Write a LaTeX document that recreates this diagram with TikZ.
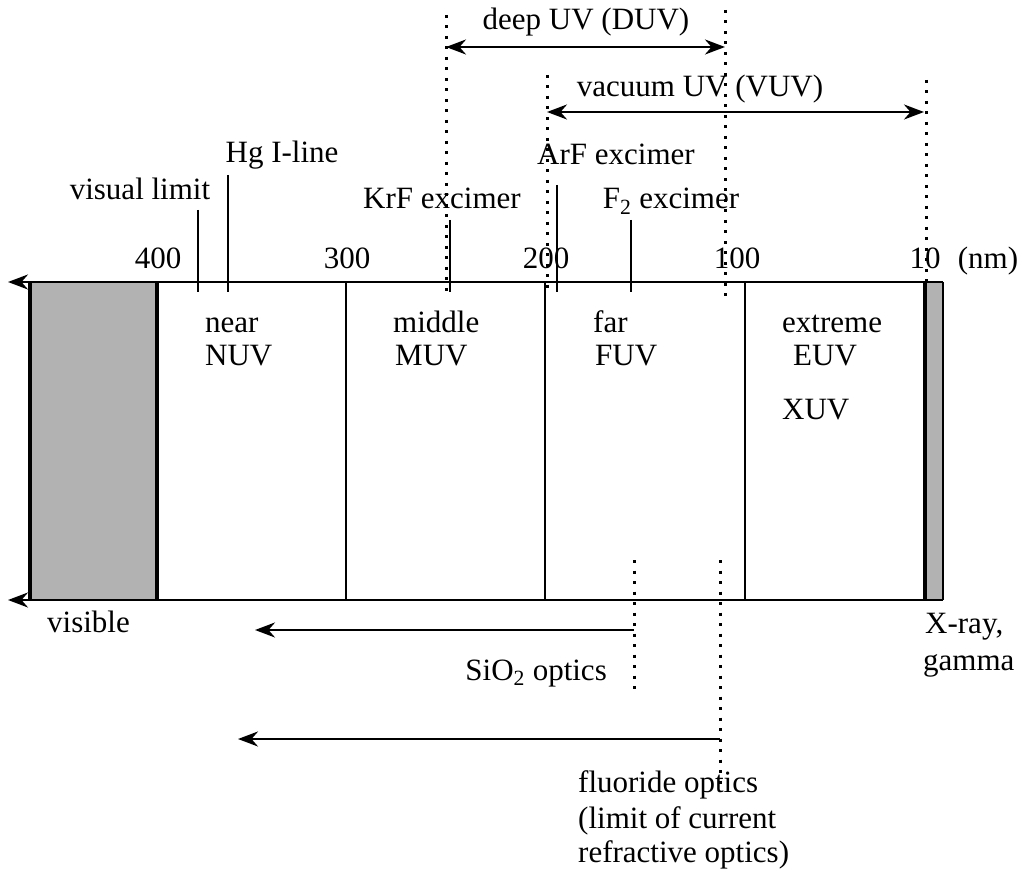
\documentclass[tikz,border=0pt]{standalone}
\usepackage{fontspec}
\setmainfont{Liberation Serif}
\usetikzlibrary{arrows.meta,positioning}

\begin{document}
\begin{tikzpicture}[x=1pt, y=-1pt,
  txt/.style={inner sep=0pt, font=\fontsize{31}{35}\selectfont},
  axis/.style={line width=3pt},
  divider/.style={line width=2.5pt},
  edge/.style={line width=4pt},
  tick/.style={line width=2.5pt},
  dots/.style={line width=3pt, dash pattern=on 3pt off 7.5pt},
  arr/.style={-{Stealth[length=20pt,width=15pt]}, line width=2.5pt},
  both/.style={{Stealth[length=20pt,width=15pt]}-{Stealth[length=20pt,width=15pt]}, line width=2.5pt}
]
\useasboundingbox (0,0) rectangle (1025,882);

% band ends
\coordinate (topL) at (8,282);
\coordinate (topR) at (943,282);
\coordinate (botL) at (8,600);
\coordinate (botR) at (943,600);

\fill[black!30] (30,282) rectangle (157,600);
\fill[black!30] (925,282) rectangle (943,600);
\draw[edge] (30,282) -- (30,600);
\draw[edge] (157,282) -- (157,600);
\draw[edge] (925,282) -- (925,600);
\draw[divider] (943,282) -- (943,600);
\foreach \x in {346,545,745}
  \draw[divider] (\x,282) -- (\x,600);
\draw[axis, arr] (topR) -- (topL);
\draw[axis, arr] (botR) -- (botL);

% wavelength scale
\foreach \x/\t in {158/400, 347/300, 546/200, 737/100, 925/10}
  \node[txt, anchor=base] (n\t) at (\x,269) {\t};
\node[txt, anchor=base] (unit) at (988,269) {(nm)};

% lines of sources
\foreach \x/\y in {198/210, 228/175, 450/220, 557/185, 631/220}
  \draw[tick] (\x,\y) -- (\x,292);
\node[txt, anchor=base] (vislim) at (140,200) {visual limit};
\node[txt, anchor=base] (hgline) at (282,163) {Hg I-line};
\node[txt, anchor=base] (krf) at (442,209) {KrF excimer};
\node[txt, anchor=base] (arf) at (616,165) {ArF excimer};
\node[txt, anchor=base] (ftwo) at (671,209) {F\textsubscript{2} excimer};

% DUV and VUV ranges
\draw[dots] (446,15) -- (446,295);
\draw[dots] (725,10) -- (725,300);
\draw[dots] (547,75) -- (547,290);
\draw[dots] (926,80) -- (926,290);
\coordinate (duvL) at (446,47);
\coordinate (duvR) at (725,47);
\coordinate (vuvL) at (547,112);
\coordinate (vuvR) at (924,112);
\draw[both] (duvL) -- (duvR);
\draw[both] (vuvL) -- (vuvR);
\node[txt, anchor=base] (duv) at (586,30) {deep UV (DUV)};
\node[txt, anchor=base] (vuv) at (700,97) {vacuum UV (VUV)};

% bands
\node[txt, anchor=base west] (near) at (205,333) {near};
\node[txt, anchor=base west] (nuv) at (205,366) {NUV};
\node[txt, anchor=base west] (mid) at (393,333) {middle};
\node[txt, anchor=base west] (muv) at (395,366) {MUV};
\node[txt, anchor=base west] (far) at (593,333) {far};
\node[txt, anchor=base west] (fuv) at (595,366) {FUV};
\node[txt, anchor=base west] (ext) at (782,333) {extreme};
\node[txt, anchor=base west] (euv) at (793,366) {EUV};
\node[txt, anchor=base west] (xuv) at (782,419) {XUV};

\node[txt, anchor=base west] (vis) at (47,632) {visible};
\node[txt, anchor=base west] (xray) at (925,633) {X-ray,};
\node[txt, anchor=base west] (gam) at (923,670) {gamma};

% transmission limits
\draw[dots] (634,560) -- (634,690);
\draw[dots] (720,560) -- (720,787);
\coordinate (sioR) at (634,630);
\coordinate (sioL) at (255,630);
\coordinate (fluR) at (720,739);
\coordinate (fluL) at (238,739);
\draw[arr] (sioR) -- (sioL);
\draw[arr] (fluR) -- (fluL);
\node[txt, anchor=base east] (sio) at (607,680) {SiO\textsubscript{2} optics};
\node[txt, anchor=base west] (flu1) at (578,792) {fluoride optics};
\node[txt, anchor=base west] (flu2) at (578,828) {(limit of current};
\node[txt, anchor=base west] (flu3) at (578,862) {refractive optics)};
\end{tikzpicture}
\end{document}
